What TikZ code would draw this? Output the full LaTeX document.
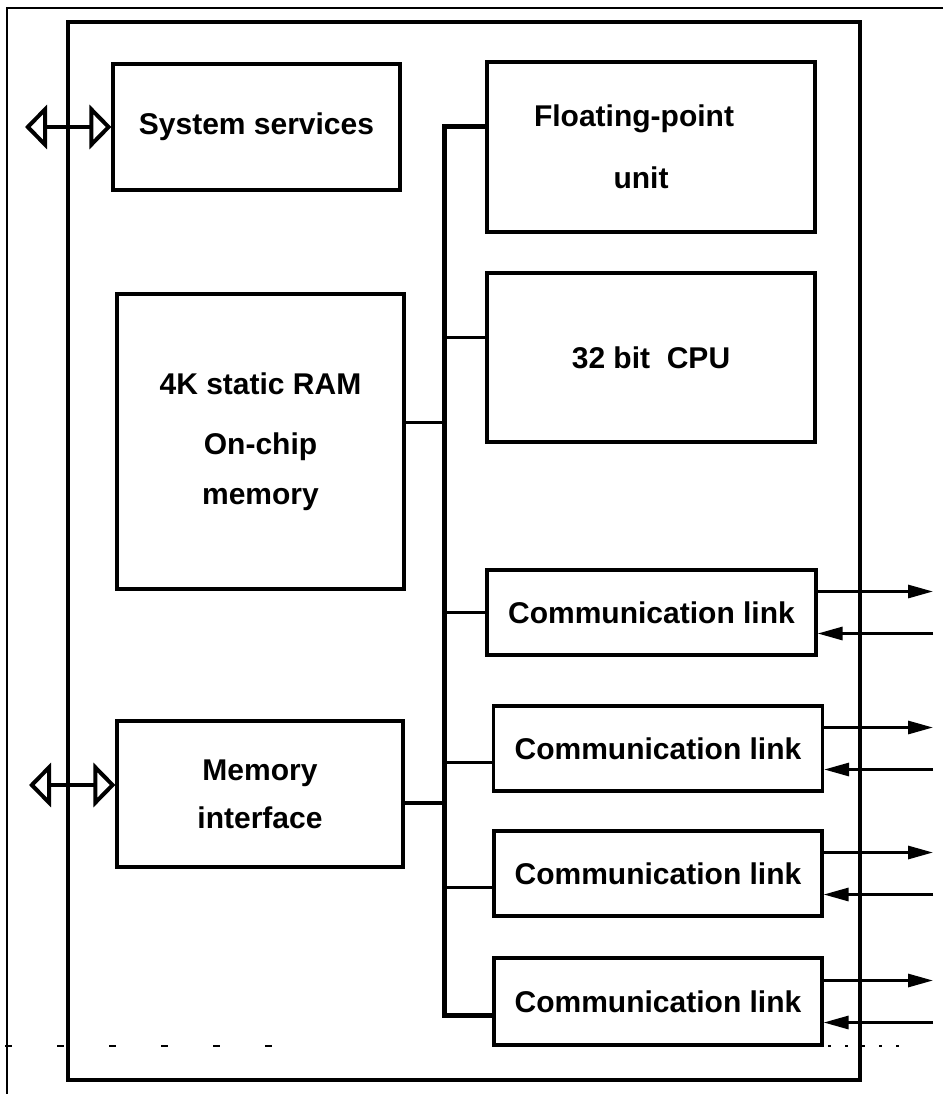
\documentclass[tikz,border=0pt]{standalone}
\usepackage{fontspec}
\setmainfont{Liberation Sans}
\usetikzlibrary{arrows.meta}
\begin{document}
\begin{tikzpicture}[x=1pt,y=-1pt,
    box/.style={draw,line width=3.2pt,inner sep=0pt,align=center,
      font=\bfseries\fontsize{30}{48}\selectfont},
    busline/.style={line width=5pt},
    tap/.style={line width=3.4pt},
    port/.style={line width=4pt,
      {Triangle[open,length=22pt,width=44pt]}-{Triangle[open,length=22pt,width=44pt]}},
    sig/.style={line width=3pt,-{Triangle[length=25pt,width=13pt]}}]
  \useasboundingbox (0,0) rectangle (943,1094);
  \draw[line width=2.4pt] (943,8) -| (7,1094);
  \draw[line width=3.2pt] (68,22) rectangle (860,1080);
  \draw[line width=1.5pt,dash pattern=on 7pt off 45pt] (5,1046) -- (290,1046);
  \draw[line width=1.5pt,dash pattern=on 3pt off 14pt] (828,1046) -- (905,1046);
  \path
    (256.5,127) node[box,minimum width=287,minimum height=126] (sys){System services}
    (260.5,441.5) node[box,minimum width=287,minimum height=295] (ram){4K static RAM\\[12pt]On-chip\\[2pt]memory}
    (260,794) node[box,minimum width=286,minimum height=146] (mem){Memory\\interface}
    (651,147) node[box,minimum width=328,minimum height=170] (fpu){Floating-point\hspace*{34pt}\\[14pt]\hspace*{95pt}unit\hspace*{115pt}}
    (651,357.5) node[box,minimum width=328,minimum height=169] (cpu){32 bit\ \ CPU}
    (651.5,612.5) node[box,minimum width=329,minimum height=85] (l1){Communication link}
    (658,748.5) node[box,minimum width=329,minimum height=85] (l2){Communication link}
    (658,873.5) node[box,minimum width=328,minimum height=85] (l3){Communication link}
    (658,1001.5) node[box,minimum width=328,minimum height=87] (l4){Communication link};
  \coordinate (bus) at (444,0);
  \coordinate (rx) at (933,0);
  \coordinate (sysl) at (25,127);
  \coordinate (meml) at (29,785);
  \draw[busline] ([yshift=20pt]fpu.west) -| ([yshift=-14pt]l4.west -| bus) -- ([yshift=-14pt]l4.west);
  \begin{scope}[tap]
    \draw ([yshift=20pt]cpu.west) -- ([yshift=20pt]cpu.west -| bus);
    \draw ([yshift=19pt]ram.east) -- ([yshift=19pt]ram.east -| bus);
    \draw (l1.west) -- (l1.west -| bus);
    \draw ([yshift=-14pt]l2.west) -- ([yshift=-14pt]l2.west -| bus);
    \draw ([yshift=-9pt]mem.east) -- ([yshift=-9pt]mem.east -| bus);
    \draw ([yshift=-14pt]l3.west) -- ([yshift=-14pt]l3.west -| bus);
  \end{scope}
  \draw[port] (sysl) -- (sys.west);
  \draw[port] (meml) -- (meml -| mem.west);
  \foreach \n in {l1,l2,l3,l4}{
    \draw[sig] ([yshift=21pt]\n.east) -- ([yshift=21pt]\n.east -| rx);
    \draw[sig] ([yshift=-21pt]\n.east -| rx) -- ([yshift=-21pt]\n.east);
  }
\end{tikzpicture}
\end{document}
